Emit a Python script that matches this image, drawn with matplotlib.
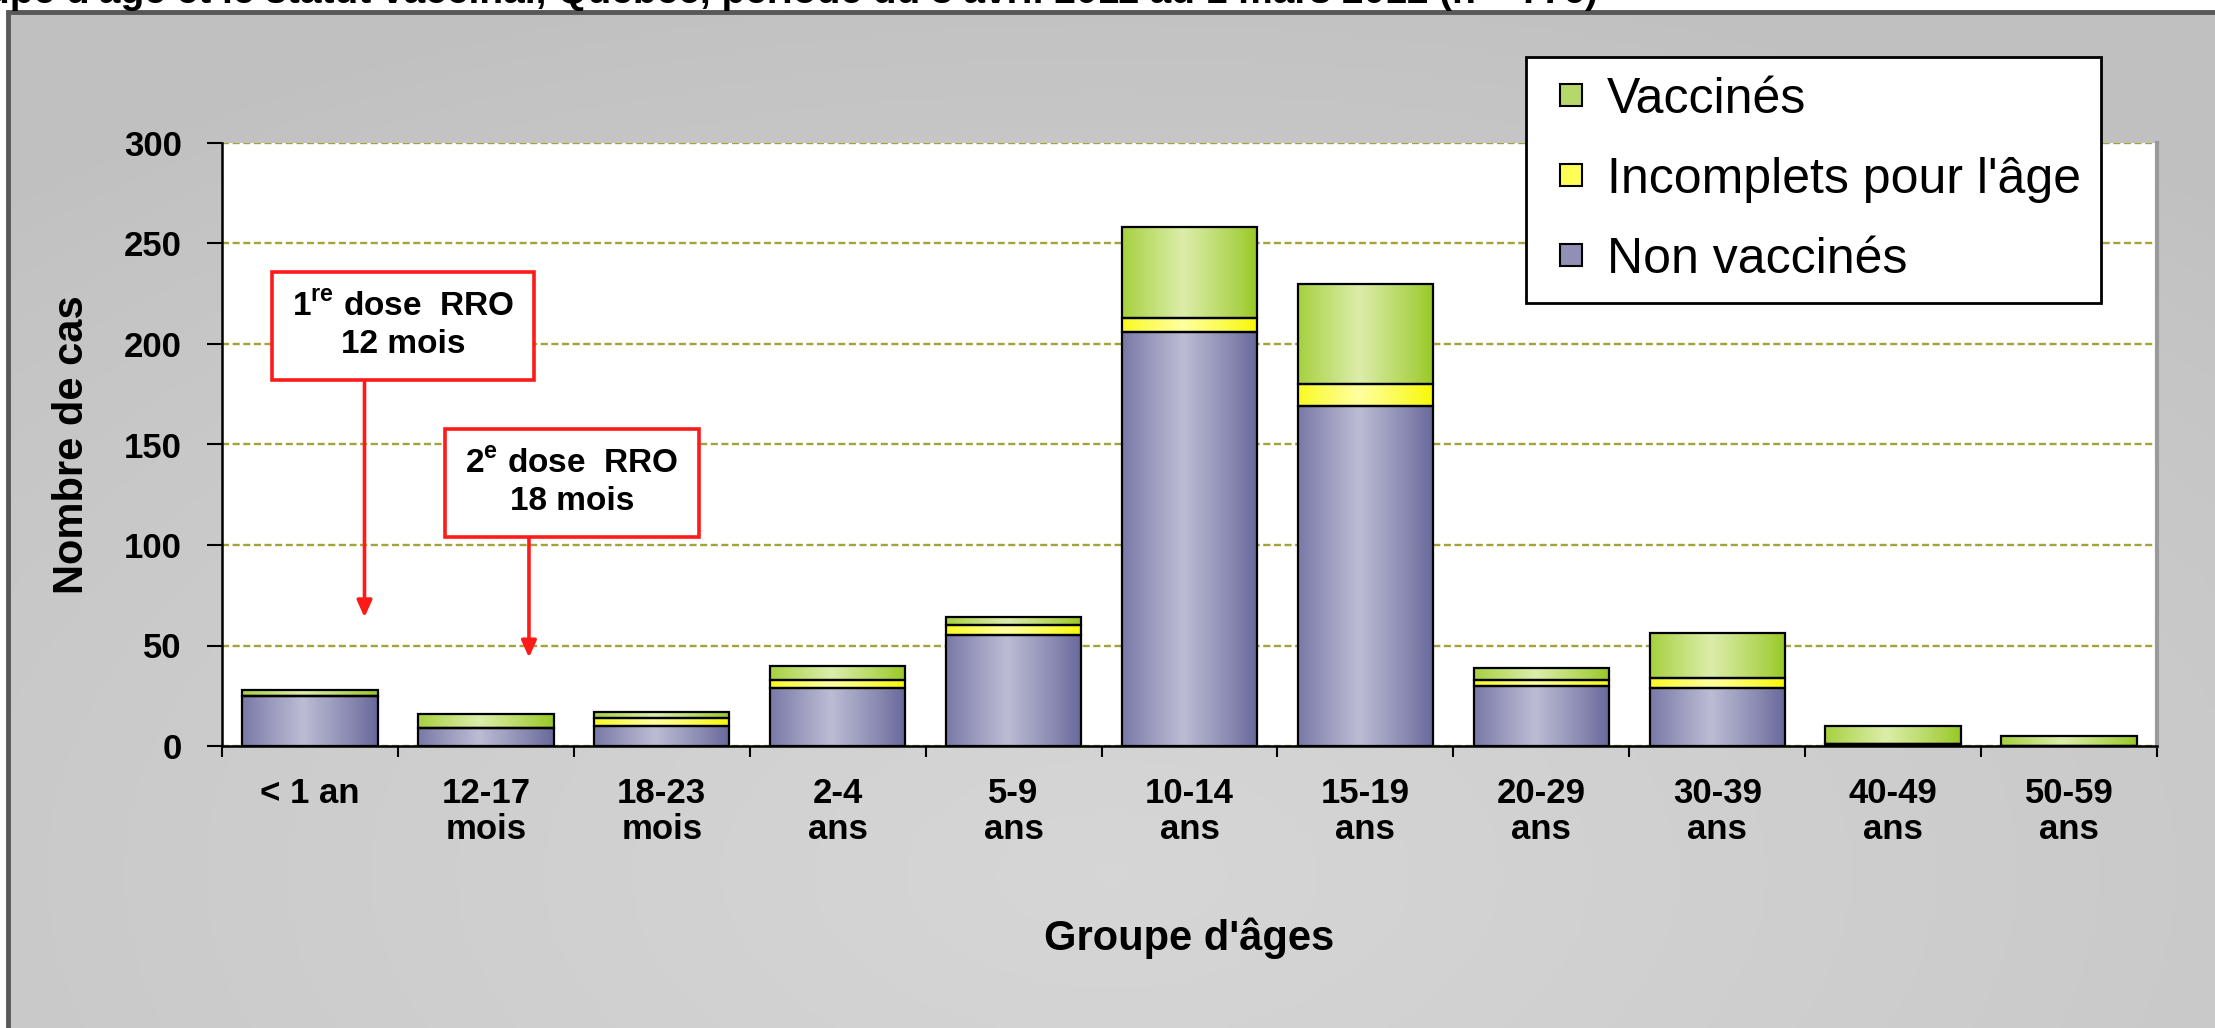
import numpy as np
import matplotlib
matplotlib.use("Agg")
import matplotlib.pyplot as plt
from matplotlib.patches import Rectangle, Patch
from matplotlib.legend_handler import HandlerPatch

plt.rcParams['font.family'] = ['Liberation Sans', 'DejaVu Sans']
plt.rcParams['mathtext.fontset'] = 'custom'
plt.rcParams['mathtext.rm'] = 'Liberation Sans'
plt.rcParams['mathtext.bf'] = 'Liberation Sans:bold'

# data
groups = ["< 1 an", "12-17\nmois", "18-23\nmois", "2-4\nans", "5-9\nans", "10-14\nans",
          "15-19\nans", "20-29\nans", "30-39\nans", "40-49\nans", "50-59\nans"]
non_vaccines = [25, 9, 10, 29, 55, 206, 169, 30, 29, 1, 0]
incomplets = [0, 0, 4, 4, 5, 7, 11, 3, 5, 0, 0]
vaccines = [3, 7, 3, 7, 4, 45, 50, 6, 22, 9, 5]

title = ("Répartition des cas de rougeole selon le groupe d'âge et le statut vaccinal, "
         "Québec, période du 8 avril 2011 au 1 mars 2012 (n = 776)")

W, H = 2215, 1028
fig = plt.figure(figsize=(W / 100, H / 100), dpi=100, facecolor="white")

# grey panel with a soft lighter centre
bg = fig.add_axes([8 / W, 0, 1 - 8 / W, 1 - 13 / H], zorder=-5)
gy, gx = np.mgrid[0:1:200j, 0:1:400j]
d = np.sqrt(((gx - 0.5) / 0.75) ** 2 + ((gy - 0.85) / 0.9) ** 2)
light = np.clip(1 - d, 0, 1) ** 0.8
shade = 0.755 + 0.085 * light
bg.imshow(np.dstack([shade] * 3), extent=[0, 1, 0, 1], aspect="auto", origin="upper")
bg.set_axis_off()
fig.patches.append(Rectangle((8 / W, -0.01), 1.0, 1 - 12 / H + 0.01, transform=fig.transFigure,
                             fill=False, edgecolor="#585858", lw=3.5, zorder=-4))

# title is cut by the top edge in the reference
fig.text(1598 / W, 1 - 3 / H, title, ha="right", va="baseline", fontsize=28,
         fontweight="bold", color="black")

ax = fig.add_axes([222 / W, 1 - 746 / H, (2157 - 222) / W, (746 - 143) / H])
ax.set_facecolor("white")

x = np.arange(len(groups))
bw = 0.77
bottom2 = np.array(non_vaccines) + np.array(incomplets)
b1 = ax.bar(x, non_vaccines, bw, facecolor="none", edgecolor="black", lw=1.6, zorder=4)
b2 = ax.bar(x, incomplets, bw, bottom=non_vaccines, facecolor="none", edgecolor="black", lw=1.6, zorder=4)
b3 = ax.bar(x, vaccines, bw, bottom=bottom2, facecolor="none", edgecolor="black", lw=1.6, zorder=4)


def gradient_fill(bars, edge, mid):
    edge = np.array(matplotlib.colors.to_rgb(edge))
    mid = np.array(matplotlib.colors.to_rgb(mid))
    t = np.linspace(0, 1, 200)
    f = np.clip(1 - np.abs(t - 0.45) / 0.55, 0, 1) ** 0.9
    img = (edge + (mid - edge) * f[:, None])[None, :, :]
    for b in bars:
        if b.get_height() <= 0:
            continue
        ax.imshow(img, extent=[b.get_x(), b.get_x() + b.get_width(), b.get_y(),
                               b.get_y() + b.get_height()], aspect="auto", zorder=3)


gradient_fill(b1, "#66669a", "#bcbcd4")
gradient_fill(b2, "#f8f800", "#ffffa0")
gradient_fill(b3, "#97c822", "#dcedaa")

ax.set_xlim(-0.5, len(groups) - 0.5)
ax.set_ylim(0, 300)
ax.set_yticks(np.arange(0, 301, 50))
ax.yaxis.grid(True, color="#a3a33a", ls=(0, (3, 1.5)), lw=1.7, zorder=0)
ax.set_axisbelow(True)

ax.set_xticks(x)
ax.set_xticklabels(groups, fontsize=25, fontweight="bold", linespacing=1.15, va="top")
ax.set_xticks(np.arange(len(groups) + 1) - 0.5, minor=True)
ax.tick_params(axis="x", which="major", length=0, pad=22)
ax.tick_params(axis="x", which="minor", length=8, width=1.5, direction="out")
ax.tick_params(axis="y", length=11, width=1.5, pad=18, labelsize=25)
for lab in ax.get_yticklabels():
    lab.set_fontweight("bold")

for s in ["left", "bottom"]:
    ax.spines[s].set_color("black")
    ax.spines[s].set_linewidth(1.8)
ax.spines["top"].set_visible(False)
ax.spines["right"].set_color("#9a9a9a")
ax.spines["right"].set_linewidth(3)

ax.set_ylabel("Nombre de cas", fontsize=30, fontweight="bold")
ax.yaxis.set_label_coords(-0.067, 0.5)
ax.set_xlabel("Groupe d'âges", fontsize=30, fontweight="bold")
ax.xaxis.set_label_coords(0.5, -0.285)

# vaccination annotations
box = dict(boxstyle="square,pad=0.6", facecolor="white", edgecolor="#ff1a1a", lw=2.6)
arrow = dict(arrowstyle="-|>,head_length=1.0,head_width=0.45", color="#ff1a1a", lw=2.6,
             shrinkA=0, shrinkB=0)
ax.annotate("", xy=(0.31, 64), xytext=(0.31, 184), arrowprops=arrow, zorder=6)
ax.text(0.53, 209, "1$^{\\mathbf{re}}$ dose  RRO\n12 mois", ha="center", va="center",
        fontsize=24, fontweight="bold", bbox=box, zorder=7, linespacing=1.25)
ax.annotate("", xy=(1.245, 44), xytext=(1.245, 105), arrowprops=arrow, zorder=6)
ax.text(1.49, 131, "2$^{\\mathbf{e}}$ dose  RRO\n18 mois", ha="center", va="center",
        fontsize=24, fontweight="bold", bbox=box, zorder=7, linespacing=1.25)


def small_square(legend, orig_handle, xdescent, ydescent, width, height, fontsize):
    s = 0.45 * fontsize
    return Rectangle((-xdescent + width - s, -ydescent + (height - s) / 2), s, s)


handles = [Patch(facecolor="#b6d86a", edgecolor="black", lw=1.5),
           Patch(facecolor="#ffff55", edgecolor="black", lw=1.5),
           Patch(facecolor="#9090b6", edgecolor="black", lw=1.5)]
leg = fig.legend(handles, ["Vaccinés", "Incomplets pour l'âge", "Non vaccinés"],
                 loc="upper left", bbox_to_anchor=(1526 / W, 1 - 57 / H), fontsize=36,
                 frameon=True, fancybox=False, handlelength=0.72, handleheight=0.45,
                 handletextpad=0.5, labelspacing=0.68, borderpad=0.4, borderaxespad=0,
                 handler_map={Patch: HandlerPatch(patch_func=small_square)})
leg.get_frame().set_edgecolor("black")
leg.get_frame().set_linewidth(2)
leg.get_frame().set_alpha(1)

fig.savefig("out.png", dpi=100)
